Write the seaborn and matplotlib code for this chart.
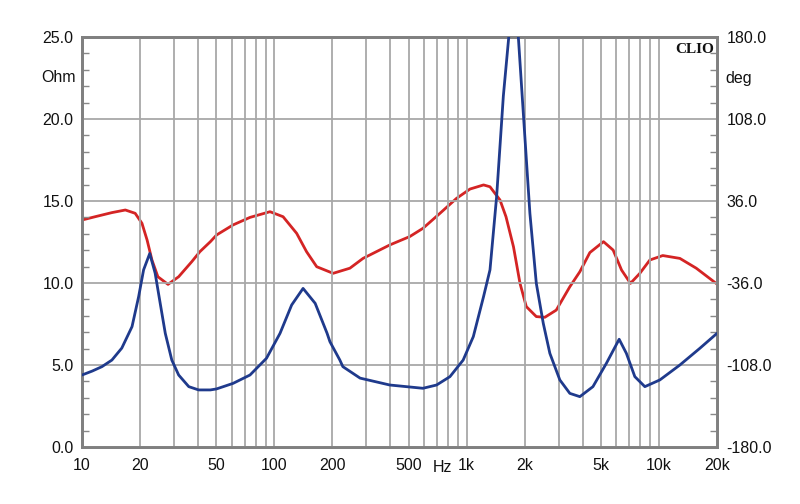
import numpy as np
import pandas as pd
import matplotlib
matplotlib.use("Agg")
import matplotlib.pyplot as plt
import seaborn as sns
from matplotlib.ticker import FixedLocator, NullFormatter, NullLocator

# impedance (Ohm)
imp_freq = [10, 11.3, 12.7, 14.3, 16.1, 18.2, 19.7, 20.9, 22.5, 24, 25.5, 27.1, 29.3, 31.8,
            35.9, 40.4, 46.5, 50, 61, 74.7, 91, 107, 123, 141, 163, 188, 194.5, 219, 227,
            279, 398, 592, 697, 818, 958, 1082, 1223, 1321, 1430, 1550, 1660, 1760, 1850,
            1970, 2130, 2300, 2500, 2705, 3048, 3435, 3873, 4530, 5320, 6200, 6760, 7480,
            8433, 10093, 12824, 16293, 20000]
imp_ohm = [4.39, 4.63, 4.9, 5.3, 6.03, 7.34, 9.17, 10.8, 11.8, 10.6, 8.76, 6.93, 5.3, 4.39,
           3.68, 3.48, 3.48, 3.54, 3.88, 4.39, 5.41, 6.93, 8.66, 9.67, 8.76, 6.93, 6.42, 5.3, 4.9,
           4.2, 3.78, 3.58, 3.78, 4.29, 5.3, 6.73, 9.17, 10.8, 15.26, 21.4, 25.2, 28.5, 25.2,
           20.3, 14.25, 9.98, 7.54, 5.71, 4.09, 3.27, 3.07, 3.68, 5.1, 6.57, 5.71, 4.29,
           3.68, 4.09, 5.0, 6.02, 6.93]

# phase (deg)
ph_freq = [10, 11.7, 14.3, 16.8, 18.9, 20.5, 21.8, 23.1, 24.8, 28, 31.8, 37.2, 41, 46.5,
           50.1, 61, 74.7, 94.9, 111, 130.6, 147, 166, 202, 247, 289, 398, 506, 592, 726,
           885, 1040, 1223, 1321, 1489, 1600, 1750, 1892, 2040, 2300, 2548, 2920, 3435,
           3873, 4365, 5140, 5770, 6380, 7100, 7943, 8953, 10450, 12824, 15600, 20000]
ph_deg = [19.3, 22.2, 25.8, 28.1, 25.2, 16.4, 1.7, -15.8, -30.5, -37.2, -30.5, -17.3, -8.5, 0.3,
          6.2, 15.0, 21.6, 26.6, 22.2, 7.6, -8.5, -21.7, -27.5, -23.0, -14.4, -2.6, 4.8, 12.0, 25.2,
          38.3, 46.5, 50.1, 48.5, 36.9, 22.2, -4.2, -36.3, -56.7, -65.5, -66.1, -59.8, -39.3,
          -26.1, -9.3, 0.3, -7.1, -24.6, -36.3, -27.5, -15.8, -11.9, -14.4, -23.0, -36.9]

x_ticks = [10, 20, 50, 100, 200, 500, 1000, 2000, 5000, 10000, 20000]
x_labels = ["10", "20", "50", "100", "200", "500", "1k", "2k", "5k", "10k", "20k"]
left_ticks = [0, 5, 10, 15, 20, 25]
right_ticks = [-180, -108, -36, 36, 108, 180]

sns.set_style("white")
plt.rcParams['font.family'] = ['Liberation Sans', 'DejaVu Sans']

fig = plt.figure(figsize=(8, 5.04), dpi=100)
ax = fig.add_axes([82/800, 57/504, 635/800, 410/504])
ax2 = ax.twinx()

imp = pd.DataFrame({"f": imp_freq, "z": imp_ohm})
ph = pd.DataFrame({"f": ph_freq, "p": ph_deg})

grid_c = "#a8a8a8"
ax.set_xscale("log")
ax.set_xlim(10, 20000)
ax.set_ylim(0, 25)
ax2.set_ylim(-180, 180)

# grid
minor = []
for d in [10, 100, 1000, 10000]:
    for m in range(1, 10):
        v = d * m
        if 10 <= v <= 20000:
            minor.append(v)
minor.append(20000)
for v in minor:
    ax.axvline(v, color=grid_c, lw=1.3, zorder=0)
for v in left_ticks:
    ax.axhline(v, color=grid_c, lw=1.3, zorder=0)

sns.lineplot(data=ph, x="f", y="p", ax=ax2, color="#d42424", lw=2.0, zorder=3)
sns.lineplot(data=imp, x="f", y="z", ax=ax, color="#1f3a8c", lw=2.0, zorder=4)
for ln in ax.lines + ax2.lines:
    ln.set_solid_joinstyle("round")

ax2.set_zorder(1)
ax.set_zorder(2)
ax.patch.set_visible(False)

ax.set_xticks(x_ticks)
ax.set_xticklabels(x_labels)
ax.xaxis.set_minor_locator(NullLocator())
ax.set_yticks(left_ticks)
ax.set_yticklabels([f"{v:.1f}" for v in left_ticks])
ax.yaxis.set_minor_locator(FixedLocator(np.arange(0, 25.1, 1)))
ax.yaxis.set_minor_formatter(NullFormatter())
ax2.set_yticks(right_ticks)
ax2.set_yticklabels([f"{v:.1f}" for v in right_ticks])
ax2.yaxis.set_minor_locator(FixedLocator(np.arange(-180, 180.1, 14.4)))
ax2.yaxis.set_minor_formatter(NullFormatter())

ax.tick_params(axis="x", which="major", length=0, pad=8, labelsize=11.5, colors="#111111")
ax.tick_params(axis="y", which="major", length=0, pad=6, labelsize=11.5, colors="#111111")
ax.tick_params(axis="y", which="minor", direction="in", length=5, color="#888888", width=1)
ax2.tick_params(axis="y", which="major", length=0, pad=7, labelsize=11.5, colors="#111111")
ax2.tick_params(axis="y", which="minor", direction="in", length=5, color="#888888", width=1)

for a in (ax, ax2):
    a.set_xlabel("")
    a.set_ylabel("")
    for s in a.spines.values():
        s.set_visible(True)
        s.set_color("#808080")
        s.set_linewidth(2)

fig.text(76/800, 1 - 78/504, "Ohm", ha="right", va="center", fontsize=11.5, color="#111111")
fig.text(725/800, 1 - 78/504, "deg", ha="left", va="center", fontsize=11.5, color="#111111")
fig.text(442/800, 1 - 467/504, "Hz", ha="center", va="center", fontsize=11.5, color="#111111")
ax.text(0.995, 0.985, "CLIO", transform=ax.transAxes, ha="right", va="top",
        fontsize=11, fontweight="bold", family="Liberation Serif", color="#111111", zorder=6)

fig.savefig("out.png", dpi=100)
